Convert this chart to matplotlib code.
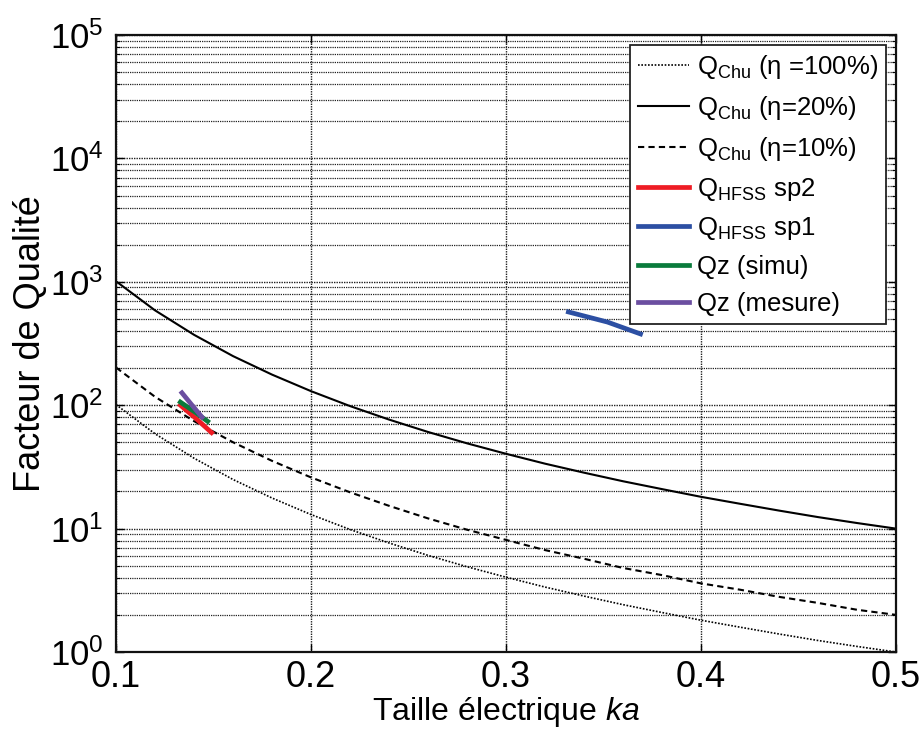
import matplotlib
matplotlib.use("Agg")
import matplotlib.pyplot as plt
from matplotlib.ticker import LogLocator, FixedLocator

plt.rcParams['font.family'] = ['Liberation Sans', 'DejaVu Sans']
plt.rcParams['mathtext.fontset'] = 'custom'
plt.rcParams['mathtext.rm'] = 'Liberation Sans'
plt.rcParams['mathtext.it'] = 'Liberation Sans:italic'
plt.rcParams['mathtext.bf'] = 'Liberation Sans:bold'

# ---- data ----
ka = [0.10, 0.12, 0.14, 0.16, 0.18, 0.20, 0.22, 0.24, 0.26, 0.28, 0.30,
      0.32, 0.34, 0.36, 0.38, 0.40, 0.42, 0.44, 0.46, 0.48, 0.50]
q_chu_20 = [1010, 587, 372, 250, 177, 130, 98.4, 76.5, 60.7, 49.1, 40.4,
            33.6, 28.4, 24.2, 20.9, 18.1, 15.9, 14.0, 12.4, 11.1, 10.0]
q_chu_10 = [202, 117, 74.3, 50.1, 35.4, 26.0, 19.7, 15.3, 12.1, 9.8, 8.1,
            6.7, 5.7, 4.8, 4.2, 3.6, 3.2, 2.8, 2.5, 2.2, 2.0]
q_chu_100 = [101, 58.7, 37.2, 25.0, 17.7, 13.0, 9.84, 7.65, 6.07, 4.91, 4.04,
             3.36, 2.84, 2.42, 2.09, 1.81, 1.59, 1.40, 1.24, 1.11, 1.00]

ka_sp2 = [0.133, 0.141, 0.149]
q_sp2 = [100, 78, 60]
ka_sp1 = [0.332, 0.352, 0.369]
q_sp1 = [570, 472, 378]
ka_simu = [0.133, 0.140, 0.147]
q_simu = [106, 89, 74]
ka_mes = [0.1338, 0.139, 0.1441]
q_mes = [126, 100, 80]

labels = [r'Q$_{\mathrm{Chu}}$ (η =100%)', r'Q$_{\mathrm{Chu}}$ (η=20%)',
          r'Q$_{\mathrm{Chu}}$ (η=10%)', r'Q$_{\mathrm{HFSS}}$ sp2',
          r'Q$_{\mathrm{HFSS}}$ sp1', 'Qz (simu)', 'Qz (mesure)']
xticks = [0.1, 0.2, 0.3, 0.4, 0.5]

fig = plt.figure(figsize=(9.23, 7.29), dpi=100)
ax = fig.add_axes([0.1257, 0.1056, 0.9707 - 0.1257, 0.952 - 0.1056])

ax.plot(ka, q_chu_100, color='black', lw=1.2, ls=(0, (1, 1)), label=labels[0])
ax.plot(ka, q_chu_20, color='black', lw=1.5, ls='-', label=labels[1])
ax.plot(ka, q_chu_10, color='black', lw=1.5, ls=(0, (3, 2)), label=labels[2])
ax.plot(ka_sp2, q_sp2, color='#ee1c24', lw=3.4, label=labels[3])
ax.plot(ka_sp1, q_sp1, color='#2c4fa3', lw=3.4, label=labels[4])
ax.plot(ka_simu, q_simu, color='#0a7b3c', lw=3.4, label=labels[5])
ax.plot(ka_mes, q_mes, color='#6b4ea0', lw=3.4, label=labels[6])

ax.set_yscale('log')
ax.set_xlim(0.1, 0.5)
ax.set_ylim(1, 1e5)
ax.xaxis.set_major_locator(FixedLocator(xticks))
ax.set_xticklabels(['%.1f' % t for t in xticks])
ax.yaxis.set_major_locator(LogLocator(base=10, numticks=10))
ax.yaxis.set_minor_locator(LogLocator(base=10, subs=range(2, 10), numticks=100))

ax.grid(True, which='major', axis='both', color='#222222', ls=(0, (1, 0.8)), lw=1.0)
ax.grid(True, which='minor', axis='y', color='#222222', ls=(0, (1, 0.8)), lw=0.9)

ax.tick_params(which='both', direction='in', top=True, right=True)
ax.tick_params(which='major', length=6, width=1.0, labelsize=25, pad=5)
ax.tick_params(which='minor', length=3, width=0.8)
ax.tick_params(axis='x', pad=6, labelsize=26)
ax.tick_params(axis='y', pad=9)
for s in ax.spines.values():
    s.set_linewidth(1.6)
    s.set_color('#111111')

ax.set_xlabel(r'Taille électrique $\it{ka}$', fontsize=23, labelpad=0)
ax.set_ylabel('Facteur de Qualité', fontsize=26, labelpad=1)

leg = ax.legend(loc='upper right', fontsize=18.5, handlelength=2.0, handletextpad=0.3,
                labelspacing=0.5, borderpad=0.3, borderaxespad=0.4,
                fancybox=False, framealpha=1, edgecolor='#222222')
leg.get_frame().set_linewidth(1.3)

fig.savefig('out.png', dpi=100, facecolor='white')
